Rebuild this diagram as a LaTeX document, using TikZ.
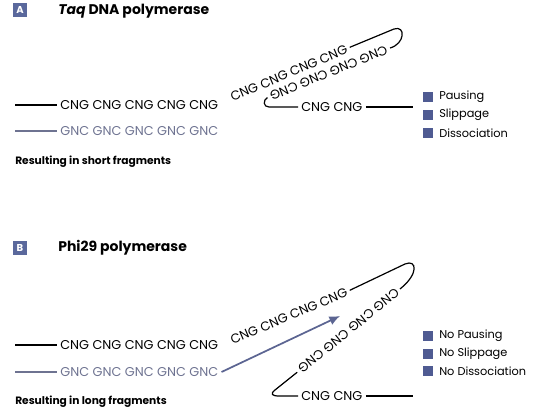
\documentclass[tikz,border=0pt]{standalone}
\usepackage{fontspec}
\setmainfont{Poppins}
\usetikzlibrary{arrows.meta}

\definecolor{strandgray}{HTML}{6E7391}
\definecolor{arrowblue}{HTML}{5C6592}
\definecolor{legendblue}{HTML}{4F5B92}
\definecolor{panelblue}{HTML}{5A689C}

\begin{document}
\begin{tikzpicture}[x=0.75pt,y=-0.75pt]

\tikzset{
  seq/.style={inner sep=0pt, outer sep=2.5pt, font=\fontsize{9.6}{11}\selectfont},
  template/.style={seq, text=strandgray},
  panel label/.style={fill=panelblue, text=white, minimum size=10.5pt, inner sep=0pt,
    font=\bfseries\fontsize{7.5}{8}\selectfont},
  title/.style={anchor=west, inner sep=0pt, font=\bfseries\fontsize{10.5}{12}\selectfont},
  result/.style={anchor=west, inner sep=0pt, font=\bfseries\fontsize{8}{9}\selectfont},
  legend/.style={anchor=west, inner sep=0pt, font=\fontsize{8.5}{10}\selectfont},
  legend box/.style={fill=legendblue, minimum size=8pt, inner sep=0pt},
  strand/.style={line width=0.9pt},
}

\useasboundingbox (0,0) rectangle (533,416);

% Panel A
\node[panel label] (labA) at (20,10) {A};
\node[title] (titleA) at (58,11) {\textit{Taq} DNA polymerase};

% Panel A, new strand
\coordinate (a top start) at (15,105);
\node[seq, anchor=west] (aTop) at (57,105) {CNG CNG CNG CNG CNG};
\node[seq, anchor=west, rotate=23] (aUp) at (228,99) {CNG CNG CNG CNG};
\coordinate (a hp top) at (394,29);
\node[seq, anchor=west, rotate=202] (aDown) at (390,48) {CNG CNG CNG CNG};
\coordinate (a hook) at (269,107);
\node[seq, anchor=west] (aLow) at (298,107) {CNG CNG};
\coordinate (a end) at (413,107);

\draw[strand] (a top start) -- (aTop.west);
\draw[strand] (aUp.east) -- (a hp top) .. controls (406,25) and (405,44) .. (aDown.west);
\draw[strand] (aDown.east) .. controls (263,100) and (263,107) .. (a hook) -- (aLow.west);
\draw[strand] (aLow.east) -- (a end);

% Panel A, template
\coordinate (a tmpl start) at (15,131);
\node[template, anchor=west] (aTmpl) at (57,131) {GNC GNC GNC GNC GNC};
\draw[strand, strandgray] (a tmpl start) -- (aTmpl.west);

\node[result] (aResult) at (15,162) {Resulting in short fragments};

% Panel A, legend
\node[legend box] (aBox1) at (428,97) {};
\node[legend box] (aBox2) at (428,115) {};
\node[legend box] (aBox3) at (428,133) {};
\node[legend] (aLeg1) at (439,97) {Pausing};
\node[legend] (aLeg2) at (439,115) {Slippage};
\node[legend] (aLeg3) at (439,133) {Dissociation};

% Panel B
\node[panel label] (labB) at (20,248) {B};
\node[title] (titleB) at (58,248) {Phi29 polymerase};

% Panel B, new strand
\coordinate (b top start) at (15,345);
\node[seq, anchor=west] (bTop) at (57,345) {CNG CNG CNG CNG CNG};
\node[seq, anchor=west, rotate=23] (bUp) at (228,342) {CNG CNG CNG CNG};
\coordinate (b hp top) at (405,264);
\node[seq, anchor=west, rotate=219] (bDown) at (400,289) {CNG CNG CNG CNG};
\coordinate (b bend) at (275,390);
\coordinate (b hook) at (279,396);
\node[seq, anchor=west] (bLow) at (298,396) {CNG CNG};
\coordinate (b end) at (413,396);

\draw[strand] (b top start) -- (bTop.west);
\draw[strand] (bUp.east) -- (b hp top) .. controls (417,259) and (419,274) .. (bDown.west);
\draw[strand] (bDown.east) -- (b bend) .. controls (270,394) and (272,396) .. (b hook) -- (bLow.west);
\draw[strand] (bLow.east) -- (b end);

% Panel B, template and extension
\coordinate (b tmpl start) at (15,372);
\node[template, anchor=west] (bTmpl) at (57,372) {GNC GNC GNC GNC GNC};
\coordinate (b arrow tip) at (340,316);
\draw[strand, strandgray] (b tmpl start) -- (bTmpl.west);
\draw[line width=1.3pt, arrowblue, -{Latex[length=8pt,width=7pt]}] (bTmpl.east) -- (b arrow tip);

\node[result] (bResult) at (15,402) {Resulting in long fragments};

% Panel B, legend
\node[legend box] (bBox1) at (428,336) {};
\node[legend box] (bBox2) at (428,354) {};
\node[legend box] (bBox3) at (428,371) {};
\node[legend] (bLeg1) at (439,336) {No Pausing};
\node[legend] (bLeg2) at (439,354) {No Slippage};
\node[legend] (bLeg3) at (439,371) {No Dissociation};

\end{tikzpicture}
\end{document}
